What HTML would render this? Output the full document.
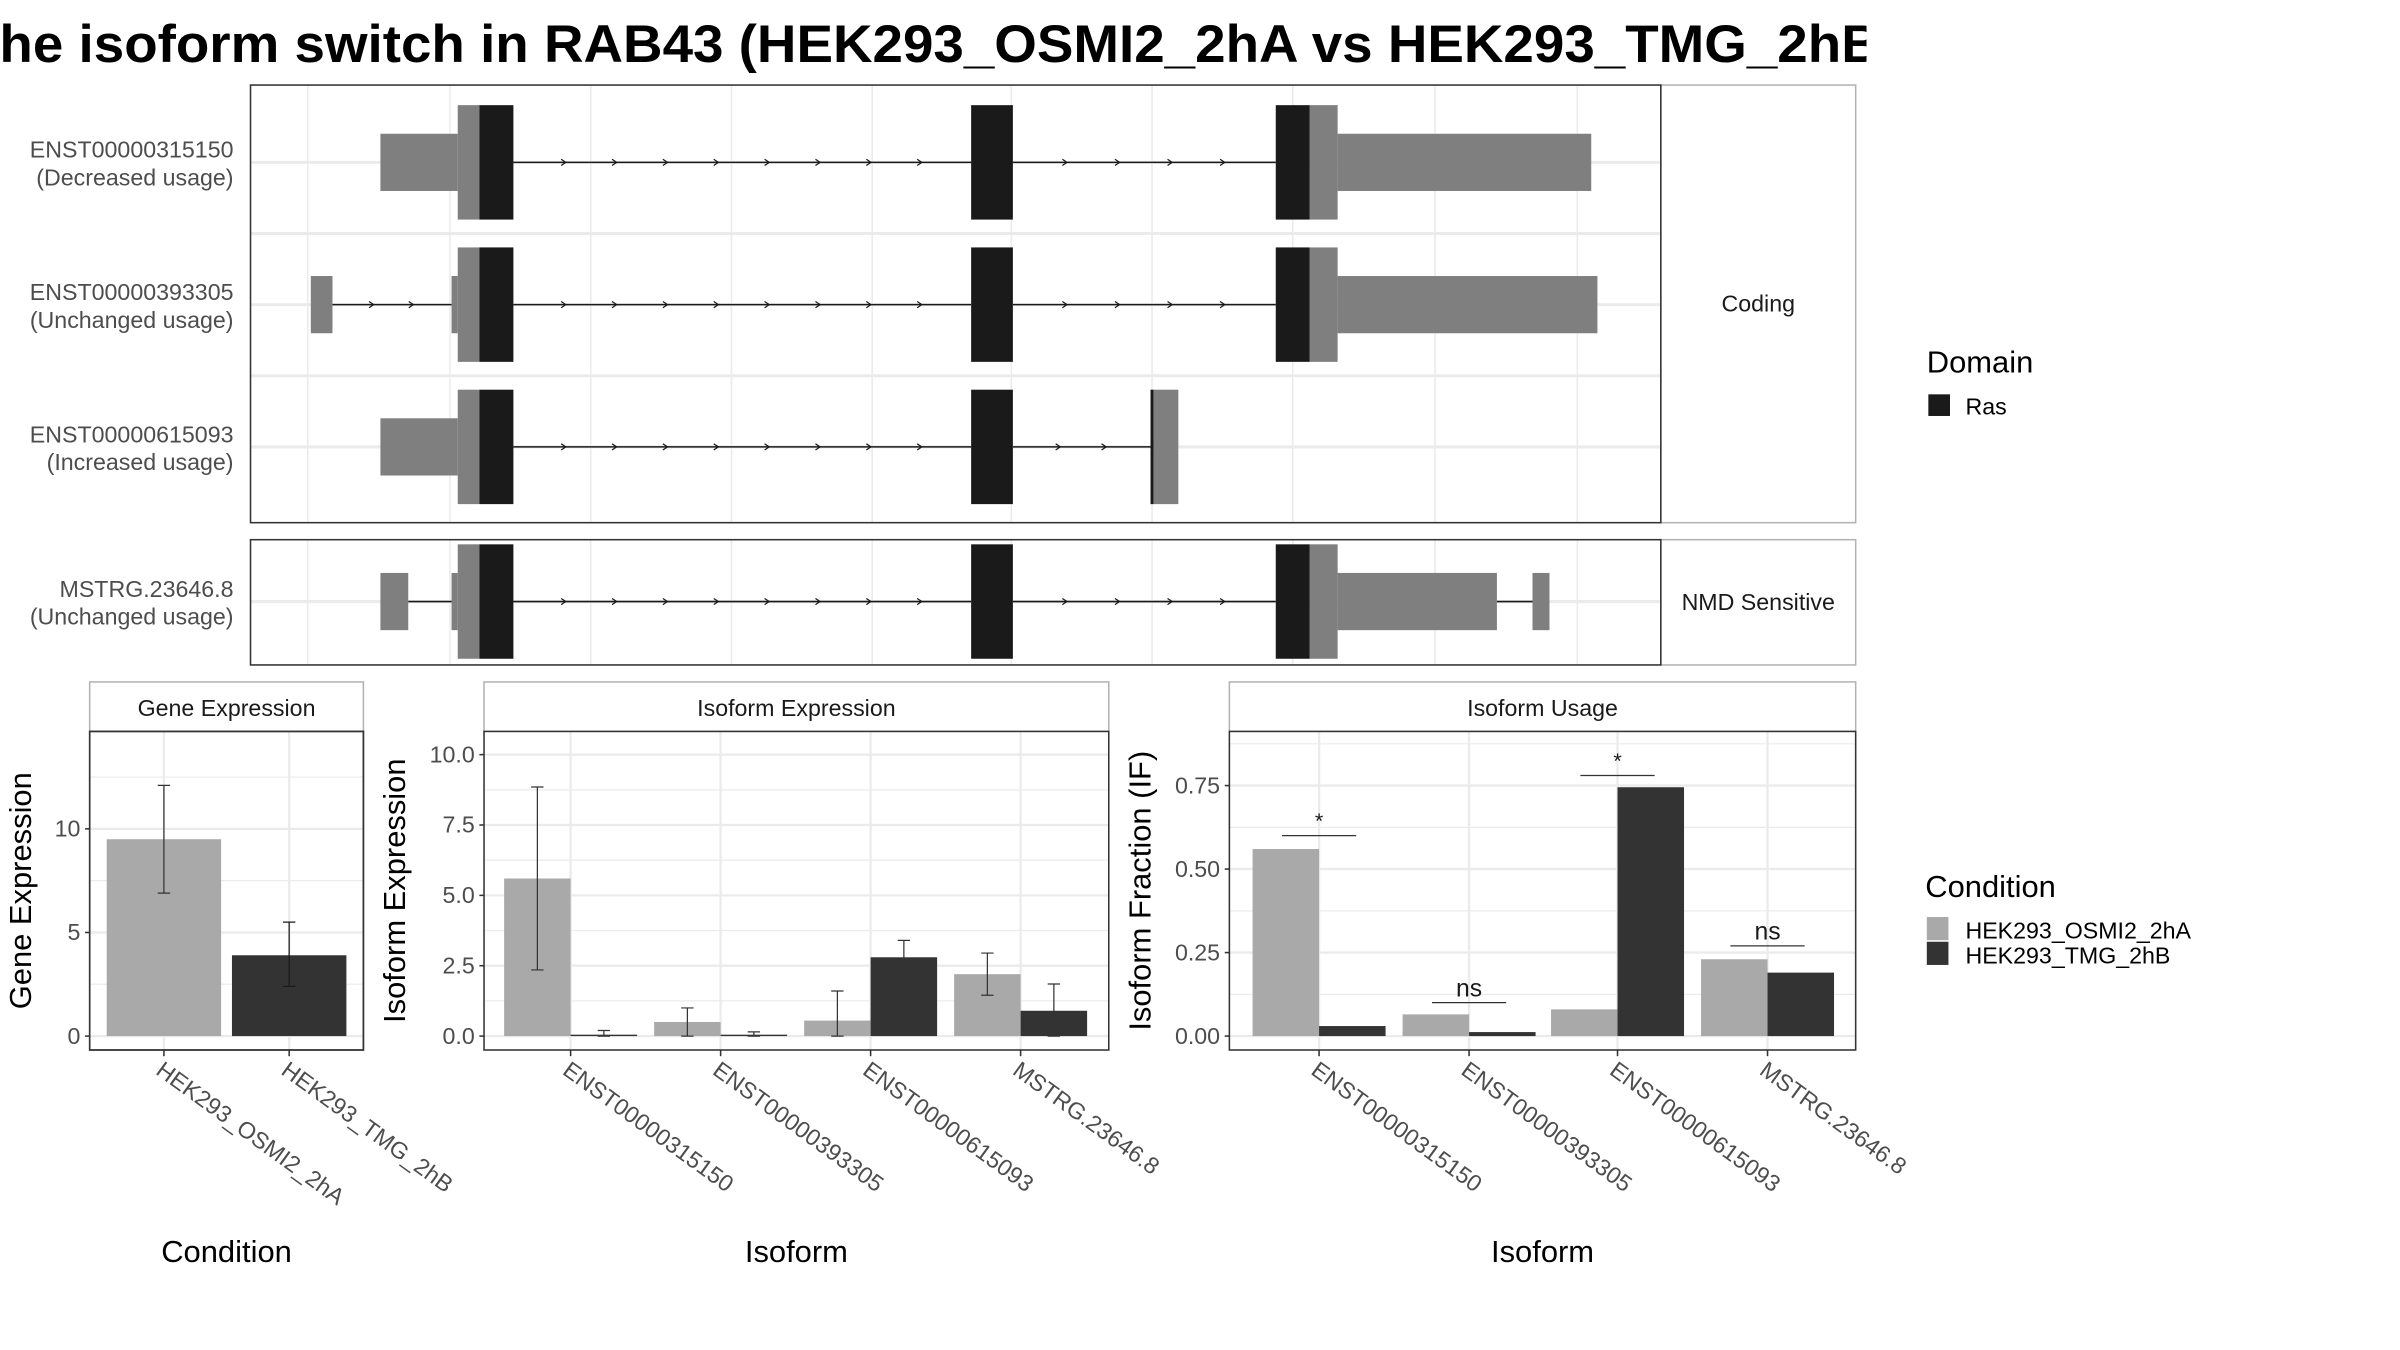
<!DOCTYPE html>
<html><head><meta charset="utf-8"><style>
html,body{margin:0;padding:0;background:#fff;}
svg{display:block;font-family:"Liberation Sans",sans-serif;}
</style></head><body>
<svg id="fig" width="2400" height="1350" viewBox="0 0 1552 873" xmlns="http://www.w3.org/2000/svg">
<svg x="0" y="0" width="1207" height="60" overflow="hidden">
<text x="-22" y="40" font-size="34" font-weight="bold" textLength="1250" lengthAdjust="spacingAndGlyphs">The isoform switch in RAB43 (HEK293_OSMI2_2hA vs HEK293_TMG_2hB)</text>
</svg>
<g id="topg"></g>
<g id="bottom"></g>
<g>
<text x="1246" y="241" font-size="20">Domain</text>
<rect x="1247" y="255" width="14" height="14" fill="#1a1a1a"/>
<text x="1271" y="268" font-size="15">Ras</text>
</g>
<g>
<text x="1245" y="580" font-size="20">Condition</text>
<rect x="1246" y="593" width="14" height="15" fill="#a9a9a9"/>
<rect x="1246" y="609" width="14" height="15" fill="#333333"/>
<text x="1271" y="607" font-size="15">HEK293_OSMI2_2hA</text>
<text x="1271" y="623" font-size="15">HEK293_TMG_2hB</text>
</g>
</svg>
<script>
const NS="http://www.w3.org/2000/svg";
function mk(parent,tag,attrs,text){const e=document.createElementNS(NS,tag);for(const k in attrs)e.setAttribute(k,attrs[k]);if(text!==undefined)e.textContent=text;parent.appendChild(e);return e;}

// ---- transcript structure data (genomic x in display units) ----
const txNames=["ENST00000315150","ENST00000393305","ENST00000615093","MSTRG.23646.8"];
const txUsage=["(Decreased usage)","(Unchanged usage)","(Increased usage)","(Unchanged usage)"];
const txExons=[
 [[246,296,"u"],[296,310,"c"],[310,332,"d"],[628,655,"d"],[825,847,"d"],[847,865,"c"],[865,1029,"u"]],
 [[201,215,"u"],[292,296,"u"],[296,310,"c"],[310,332,"d"],[628,655,"d"],[825,847,"d"],[847,865,"c"],[865,1033,"u"]],
 [[246,296,"u"],[296,310,"c"],[310,332,"d"],[628,655,"d"],[744,746,"d"],[746,762,"c"]],
 [[246,264,"u"],[292,296,"u"],[296,310,"c"],[310,332,"d"],[628,655,"d"],[825,847,"d"],[847,865,"c"],[865,968,"u"],[991,1002,"u"]]
];
const txRowY=[105,197,289,389];
const gridX=[199,291,382,473,564,654,745,836,928,1020];

const topG=document.getElementById('topg');
function panel(x,y,w,h,label,name){
  const g=mk(topG,'g',{});
  
  
  mk(g,'rect',{x:x,y:y,width:w,height:h,fill:'#fff'});
  gridX.forEach(gx=>mk(g,'line',{x1:gx,x2:gx,y1:y,y2:y+h,stroke:'#ebebeb','stroke-width':1}));
  mk(g,'rect',{x:x+w,y:y,width:126,height:h,fill:'#fff',stroke:'#b3b3b3','stroke-width':1});
  mk(g,'text',{x:x+w+63,y:y+h/2+5,'font-size':15,'text-anchor':'middle',fill:'#1a1a1a'},label);
  return g;
}
const p1=panel(162,55,912,283,"Coding","coding-panel");
const p2=panel(162,349,912,81,"NMD Sensitive","nmd-panel");
[151,243].forEach(yy=>mk(p1,'line',{x1:162,x2:1074,y1:yy,y2:yy,stroke:'#ebebeb','stroke-width':2}));
txNames.forEach((n,i)=>{
  const y=txRowY[i]; const g=i<3?p1:p2;
  const row=mk(g,'g',{});
  
  
  mk(row,'line',{x1:162,x2:1074,y1:y,y2:y,stroke:'#ebebeb','stroke-width':2});
  const ex=txExons[i];
  for(let k=0;k<ex.length-1;k++){
    const a=ex[k][1],b=ex[k+1][0];
    if(b-a>2){
      mk(row,'line',{x1:a,x2:b,y1:y,y2:y,stroke:'#1a1a1a','stroke-width':1});
      const n2=Math.floor((b-a)/37);
      for(let j=1;j<=n2;j++){const ax=a+(b-a)*j/(n2+1);
        mk(row,'path',{d:`M${ax-2},${y-2} L${ax+1},${y} L${ax-2},${y+2}`,stroke:'#1a1a1a',fill:'none','stroke-width':0.8});}
    }
  }
  ex.forEach(e=>{
    const half=e[2]==="u"?18.5:37;
    const r=mk(row,'rect',{x:e[0],y:y-half,width:e[1]-e[0],height:2*half,fill:e[2]==="d"?'#1a1a1a':'#7f7f7f'});
    
    
  });
  const lab=mk(topG,'text',{x:151,'font-size':15,'text-anchor':'end',fill:'#4d4d4d'});
  
  
  mk(lab,'tspan',{x:151,y:y-3},n);
  mk(lab,'tspan',{x:151,y:y+15},txUsage[i]);
});
mk(p1,'rect',{x:162,y:55,width:912,height:283,fill:'none',stroke:'#333','stroke-width':1});
mk(p2,'rect',{x:162,y:349,width:912,height:81,fill:'none',stroke:'#333','stroke-width':1});

// ---- bar chart data ----
const geneCats=["HEK293_OSMI2_2hA","HEK293_TMG_2hB"];
const geneVals=[9.5,3.9];
const geneLo=[6.9,2.4];
const geneHi=[12.1,5.5];
const geneTicks=["0","5","10"];
const geneTickVals=[0,5,10];

const isoCats=["ENST00000315150","ENST00000393305","ENST00000615093","MSTRG.23646.8"];
const isoExpA=[5.6,0.5,0.55,2.2];
const isoExpB=[0.05,0.05,2.8,0.9];
const isoExpALo=[2.35,0,0,1.45];
const isoExpAHi=[8.85,1.0,1.6,2.95];
const isoExpBLo=[0,0,2.2,0];
const isoExpBHi=[0.2,0.15,3.4,1.85];
const isoExpTicks=["0.0","2.5","5.0","7.5","10.0"];
const isoExpTickVals=[0,2.5,5,7.5,10];

const ifA=[0.56,0.065,0.08,0.23];
const ifB=[0.03,0.012,0.745,0.19];
const ifSig=["*","ns","*","ns"];
const ifSigY=[0.6,0.1,0.78,0.27];
const ifTicks=["0.00","0.25","0.50","0.75"];
const ifTickVals=[0,0.25,0.5,0.75];

const bot=document.getElementById('bottom');
function facet(o){
  const g=mk(bot,'g',{});
  
  
  const y=v=>o.y0-(v-o.v0)*o.k;
  mk(g,'rect',{x:o.x,y:441,width:o.w,height:32,fill:'#fff',stroke:'#b3b3b3'});
  mk(g,'text',{x:o.x+o.w/2,y:463,'font-size':15,'text-anchor':'middle',fill:'#1a1a1a'},o.strip);
  mk(g,'rect',{x:o.x,y:473,width:o.w,height:206,fill:'#fff'});
  const step=o.tickVals[1]-o.tickVals[0];
  for(let m=-1;m<40;m++){
    const v=m*step/2; const yy=y(v);
    if(yy<=473) break;
    if(yy<679) mk(g,'line',{x1:o.x,x2:o.x+o.w,y1:yy,y2:yy,stroke:'#ebebeb','stroke-width':m%2===0?1.5:0.8});
  }
  o.centers.forEach(c=>mk(g,'line',{x1:c,x2:c,y1:473,y2:679,stroke:'#ebebeb','stroke-width':1.5}));
  o.tickVals.forEach((v,i)=>{
    mk(g,'line',{x1:o.x-3,x2:o.x,y1:y(v),y2:y(v),stroke:'#333'});
    const t=mk(g,'text',{x:o.x-6,y:y(v)+5,'font-size':15,'text-anchor':'end',fill:'#4d4d4d'},o.ticks[i]);
    
    
  });
  o.centers.forEach((c,i)=>{
    mk(g,'line',{x1:c,x2:c,y1:679,y2:683,stroke:'#333'});
    const t=mk(g,'text',{x:0,y:0,'font-size':15,fill:'#4d4d4d',transform:`translate(${c-6},${694}) rotate(36)`},o.cats[i]);
    
    
  });
  o.series.forEach(s=>{
    s.vals.forEach((v,i)=>{
      const bx=o.centers[i]+s.off;
      const r=mk(g,'rect',{x:bx-s.bw/2,y:y(v),width:s.bw,height:y(0)-y(v),fill:s.col});
      
      
      if(s.lo){
        const el=mk(g,'path',{d:`M${bx-4},${y(s.hi[i])}H${bx+4}M${bx},${y(s.hi[i])}V${y(s.lo[i])}M${bx-4},${y(s.lo[i])}H${bx+4}`,stroke:'#333',fill:'none','stroke-width':0.8});
        
        
      }
    });
  });
  if(o.sig){
    o.sig.forEach((s,i)=>{
      const c=o.centers[i], yy=y(o.sigY[i]);
      mk(g,'line',{x1:c-24,x2:c+24,y1:yy,y2:yy,stroke:'#333','stroke-width':0.8});
      const t=mk(g,'text',{x:c,y:yy-(s==="*"?5:4),'font-size':s==="*"?14:16,'text-anchor':'middle',fill:'#1a1a1a'},s);
      
      
    });
  }
  mk(g,'rect',{x:o.x,y:473,width:o.w,height:206,fill:'none',stroke:'#333'});
  const yt=mk(g,'text',{x:0,y:0,'font-size':20,'text-anchor':'middle',fill:'#000',transform:`translate(${o.ytx},${576}) rotate(-90)`},o.ytitle);
  
  
  const xt=mk(g,'text',{x:o.x+o.w/2,y:816,'font-size':20,'text-anchor':'middle',fill:'#000'},o.xtitle);
  
  
}
facet({name:'gene-expression-panel',x:58,w:177,strip:'Gene Expression',y0:670,v0:0,k:13.4,
  tickVals:geneTickVals,ticks:geneTicks,centers:[106,187],cats:geneCats,
  series:[{vals:[geneVals[0]],lo:[geneLo[0]],hi:[geneHi[0]],off:0,bw:74,col:'#a9a9a9'}],
  ytitle:'Gene Expression',ytx:20,xtitle:'Condition'});
(function(){
  const g=bot.lastChild; const y=v=>670-v*13.4; const bx=187;
  const r=mk(g,'rect',{x:bx-37,y:y(geneVals[1]),width:74,height:y(0)-y(geneVals[1]),fill:'#333333'});
  
  
  const el=mk(g,'path',{d:`M${bx-4},${y(geneHi[1])}H${bx+4}M${bx},${y(geneHi[1])}V${y(geneLo[1])}M${bx-4},${y(geneLo[1])}H${bx+4}`,stroke:'#1a1a1a',fill:'none','stroke-width':0.8});
  
  
  mk(g,'rect',{x:58,y:473,width:177,height:206,fill:'none',stroke:'#333'});
})();
facet({name:'isoform-expression-panel',x:313,w:404,strip:'Isoform Expression',y0:670,v0:0,k:18.2,
  tickVals:isoExpTickVals,ticks:isoExpTicks,centers:[369,466,563,660],cats:isoCats,
  series:[{vals:isoExpA,lo:isoExpALo,hi:isoExpAHi,off:-21.5,bw:43,col:'#a9a9a9'},
          {vals:isoExpB,lo:isoExpBLo,hi:isoExpBHi,off:21.5,bw:43,col:'#333333'}],
  ytitle:'Isoform Expression',ytx:262,xtitle:'Isoform'});
facet({name:'isoform-usage-panel',x:795,w:405,strip:'Isoform Usage',y0:670,v0:0,k:216,
  tickVals:ifTickVals,ticks:ifTicks,centers:[853,950,1046,1143],cats:isoCats,
  series:[{vals:ifA,off:-21.5,bw:43,col:'#a9a9a9'},{vals:ifB,off:21.5,bw:43,col:'#333333'}],
  sig:ifSig,sigY:ifSigY,ytitle:'Isoform Fraction (IF)',ytx:744,xtitle:'Isoform'});
</script>
</body></html>
